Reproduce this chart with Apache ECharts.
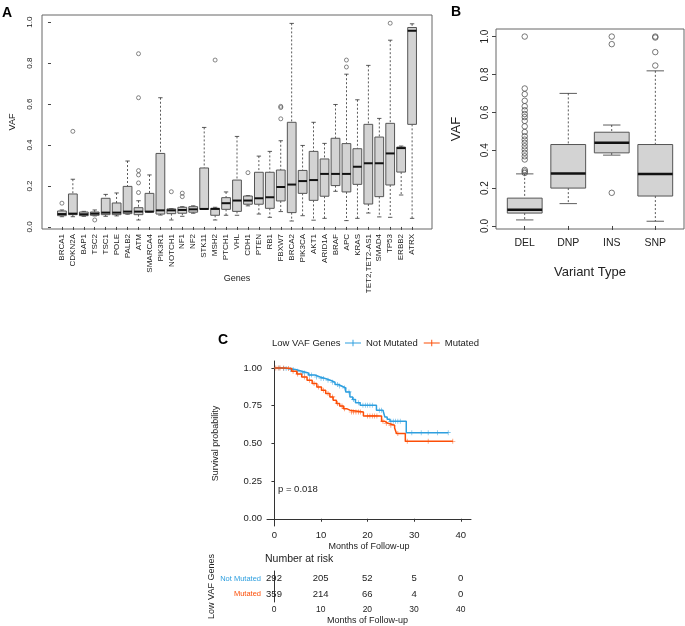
<!DOCTYPE html>
<html>
<head>
<meta charset="utf-8">
<script src="https://cdn.jsdelivr.net/npm/echarts@6/dist/echarts.min.js"></script>
<style>
  html, body { margin: 0; padding: 0; background: #fff; }
  #chart { width: 685px; height: 626px; }
</style>
</head>
<body>
<div id="chart"></div>
<script>
// ---- Panel A: VAF by gene ----
var genes = ['BRCA1','CDKN2A','BAP1','TSC2','TSC1','POLE','PALB2','ATM','SMARCA4','PIK3R1','NOTCH1',
  'NF1','NF2','STK11','MSH2','PTCH1','VHL','CDH1','PTEN','RB1','FBXW7','BRCA2','PIK3CA','AKT1',
  'ARID1A','BRAF','APC','KRAS','TET2,TET2-AS1','SMAD4','TP53','ERBB2','ATRX'];
var geneLo  = [0.050,0.050,0.052,0.054,0.052,0.054,0.062,0.034,0.073,0.058,0.034,0.052,0.067,0.086,0.034,0.057,0.057,0.103,0.063,0.047,0.075,0.029,0.055,0.033,0.042,0.174,0.031,0.042,0.068,0.049,0.047,0.156,0.042];
var geneQ1  = [0.055,0.060,0.055,0.057,0.060,0.060,0.065,0.060,0.073,0.063,0.065,0.067,0.072,0.086,0.057,0.086,0.076,0.111,0.111,0.091,0.127,0.070,0.164,0.130,0.150,0.202,0.171,0.208,0.112,0.148,0.205,0.268,0.501];
var geneMed = [0.063,0.065,0.062,0.065,0.070,0.070,0.075,0.075,0.075,0.081,0.081,0.083,0.086,0.088,0.088,0.116,0.129,0.129,0.140,0.145,0.195,0.207,0.224,0.229,0.259,0.259,0.259,0.294,0.311,0.311,0.359,0.385,0.958];
var geneQ3  = [0.078,0.161,0.073,0.073,0.140,0.117,0.198,0.094,0.164,0.359,0.088,0.096,0.099,0.288,0.091,0.143,0.229,0.151,0.267,0.267,0.278,0.511,0.276,0.369,0.332,0.433,0.407,0.382,0.501,0.439,0.506,0.390,0.974];
var geneHi  = [0.083,0.233,0.076,0.083,0.159,0.166,0.322,0.128,0.254,0.631,0.090,0.099,0.103,0.486,0.096,0.171,0.442,0.153,0.346,0.369,0.421,0.994,0.398,0.511,0.408,0.598,0.746,0.621,0.789,0.530,0.912,0.395,0.992];
var geneOutliers = [['BRCA1',0.116],['CDKN2A',0.467],['TSC2',0.034],['ATM',0.846],['ATM',0.631],
  ['ATM',0.275],['ATM',0.254],['ATM',0.215],['ATM',0.168],['NOTCH1',0.172],['NF1',0.165],['NF1',0.148],
  ['MSH2',0.815],['CDH1',0.265],['FBXW7',0.589],['FBXW7',0.583],['FBXW7',0.528],['APC',0.815],
  ['APC',0.781],['TP53',0.995]];
var vafTicks = [0, 0.2, 0.4, 0.6, 0.8, 1.0];

// ---- Panel B: VAF by variant type ----
var types   = ['DEL','DNP','INS','SNP'];
var typeLo  = [0.032,0.118,0.374,0.025];
var typeQ1  = [0.068,0.200,0.386,0.158];
var typeMed = [0.086,0.277,0.440,0.275];
var typeQ3  = [0.147,0.430,0.495,0.430];
var typeHi  = [0.275,0.700,0.533,0.819];
var typeOutliers = [['DEL',1.0],['DEL',0.726],['DEL',0.696],['DEL',0.661],['DEL',0.632],['DEL',0.611],
  ['DEL',0.591],['DEL',0.575],['DEL',0.555],['DEL',0.526],['DEL',0.496],['DEL',0.474],['DEL',0.456],
  ['DEL',0.439],['DEL',0.421],['DEL',0.404],['DEL',0.386],['DEL',0.368],['DEL',0.351],['DEL',0.296],
  ['DEL',0.288],['DEL',0.280],['INS',1.0],['INS',0.96],['INS',0.175],
  ['SNP',1.0],['SNP',0.995],['SNP',0.918],['SNP',0.847]];

// ---- Panel C: Kaplan-Meier ----
var groups = ['Not Mutated','Mutated'];
var groupColors = ['#2E9FDF','#FC4E07'];
var notMutTimes = [0,1.5,3.0,4.5,5.9,7.3,8.7,9.8,10.9,12.0,13.0,13.7,14.4,15.3,16.2,16.8,17.4,18.4,21.9,23.3,23.7,24.2,24.8,28.3];
var notMutSurv  = [1.0,0.996,0.99,0.978,0.967,0.953,0.94,0.93,0.918,0.905,0.89,0.88,0.867,0.841,0.808,0.79,0.77,0.752,0.719,0.712,0.675,0.66,0.646,0.571];
var notMutEnd = 37.3;
var mutTimes = [0,2.3,3.7,4.8,5.85,7.0,8.1,9.1,10.1,11.0,11.9,12.6,13.3,14.0,14.8,15.5,16.2,19.1,23.0,23.7,24.4,25.8,26.2,28.1];
var mutSurv  = [1.0,0.996,0.978,0.96,0.94,0.918,0.896,0.874,0.852,0.83,0.808,0.786,0.764,0.747,0.73,0.72,0.708,0.682,0.646,0.633,0.62,0.602,0.565,0.514];
var mutEnd = 38.3;
var notMutCensor = [1,2,2.5,3.5,4,5,6,6.5,7.5,8,9,10,10.5,11.5,12.5,13.5,14,15,16,17,18,19,19.5,20,20.5,21,22.5,23,25,25.5,26,26.5,27,29.5,31.5,33,35,37.3];
var mutCensor = [0.3,0.8,1.2,2,3,4,5,6.5,7.5,8.5,9.5,10.5,11.5,12.5,13.5,14.5,15,16.5,17,17.5,18,18.5,20,20.5,21,21.5,22,23.3,24,25,26.5,28.5,33,38.3];
var monthTicks = [0, 10, 20, 30, 40];
var survTicks = [0, 0.25, 0.5, 0.75, 1.0];
var riskNotMut = [292, 205, 52, 5, 0];
var riskMut    = [359, 214, 66, 4, 0];

var FONT = 'Liberation Sans';

function boxRows(lo, q1, md, q3, hi) {
  return lo.map(function (v, i) { return [i + 1, lo[i], q1[i], md[i], q3[i], hi[i]]; });
}
function stepLine(times, surv, end) {
  var d = times.map(function (t, i) { return [t, surv[i]]; });
  d.push([end, surv[surv.length - 1]]);
  return d;
}
function survAt(times, surv, t) {
  var s = 1;
  for (var i = 0; i < times.length; i++) { if (times[i] <= t) s = surv[i]; }
  return s;
}

// R-style box: dashed whiskers, solid staples, grey box, thick median
function makeBox(medWidth) {
  return function (params, api) {
    var x = api.value(0);
    var lo = api.coord([x, api.value(1)]), q1 = api.coord([x, api.value(2)]),
        md = api.coord([x, api.value(3)]), q3 = api.coord([x, api.value(4)]),
        hi = api.coord([x, api.value(5)]);
    var w = api.size([0.8, 0])[0], cx = lo[0], h = w / 2, s = w / 4;
    var dash = { stroke: '#333', lineWidth: 0.8, lineDash: [2, 2] };
    var solid = { stroke: '#333', lineWidth: 0.8 };
    return { type: 'group', children: [
      { type: 'line', shape: { x1: cx, y1: hi[1], x2: cx, y2: q3[1] }, style: dash },
      { type: 'line', shape: { x1: cx, y1: q1[1], x2: cx, y2: lo[1] }, style: dash },
      { type: 'line', shape: { x1: cx - s, y1: hi[1], x2: cx + s, y2: hi[1] }, style: solid },
      { type: 'line', shape: { x1: cx - s, y1: lo[1], x2: cx + s, y2: lo[1] }, style: solid },
      { type: 'rect', shape: { x: cx - h, y: q3[1], width: w, height: q1[1] - q3[1] },
        style: { fill: '#d3d3d3', stroke: '#555', lineWidth: 1 } },
      { type: 'line', shape: { x1: cx - h, y1: md[1], x2: cx + h, y2: md[1] },
        style: { stroke: '#111', lineWidth: medWidth } }
    ]};
  };
}

var crossIcon = 'path://M0,4.4h20v1.2h-20z M9.4,1h1.2v8h-1.2z';
var censorIcon = 'path://M0,4.4h10v1.2h-10z M4.4,0h1.2v10h-1.2z';

var chart = echarts.init(document.getElementById('chart'), null, { renderer: 'canvas' });

function label(text, left, top, size, bold) {
  return { text: text, left: left, top: top, padding: 0,
    textStyle: { fontSize: size, fontWeight: bold ? 'bold' : 'normal', color: bold ? '#000' : '#222', fontFamily: FONT } };
}

var option = {
  backgroundColor: '#fff',
  animation: false,
  textStyle: { fontFamily: FONT },
  title: [
    label('A', 2, 6, 14, true),
    label('B', 451, 5, 14, true),
    label('C', 218, 333, 14, true),
    label('Low VAF Genes', 272, 338, 9.5),
    label('p = 0.018', 278, 484, 9.5),
    label('Number at risk', 265, 554, 10.5)
  ],
  legend: {
    left: 345, top: 338, padding: 0, itemWidth: 16, itemHeight: 8, itemGap: 6, icon: crossIcon,
    data: groups,
    textStyle: { fontSize: 9.5, color: '#222', fontFamily: FONT }
  },
  grid: [
    { left: 39, top: 15, width: 393, height: 214, show: true, borderColor: '#666', borderWidth: 1, backgroundColor: 'transparent' },
    { left: 496, top: 29, width: 188, height: 200, show: true, borderColor: '#666', borderWidth: 1, backgroundColor: 'transparent' },
    { left: 267, top: 361, width: 204, height: 165 },
    { left: 264, top: 571, width: 207, height: 31 }
  ],
  xAxis: [
    { gridIndex: 0, type: 'value', min: -0.82, max: 34.82, name: 'Genes', nameLocation: 'middle', nameGap: 45,
      nameMoveOverlap: false,
      nameTextStyle: { fontSize: 9, color: '#222' },
      axisLine: { show: false }, splitLine: { show: false },
      axisTick: { length: 3, lineStyle: { color: '#444' }, customValues: genes.map(function (g, i) { return i + 1; }) },
      axisLabel: { rotate: 90, fontSize: 8, color: '#222', margin: 5,
        customValues: genes.map(function (g, i) { return i + 1; }),
        formatter: function (v) { return genes[Math.round(v) - 1] || ''; } } },
    { gridIndex: 1, type: 'value', min: 0.34, max: 4.66, name: 'Variant Type', nameLocation: 'middle', nameGap: 37,
      nameMoveOverlap: false,
      nameTextStyle: { fontSize: 13, color: '#222' },
      axisLine: { show: false }, splitLine: { show: false },
      axisTick: { length: 4, lineStyle: { color: '#444' }, customValues: [1, 2, 3, 4] },
      axisLabel: { fontSize: 10.5, color: '#222', margin: 9, customValues: [1, 2, 3, 4],
        formatter: function (v) { return types[Math.round(v) - 1] || ''; } } },
    { gridIndex: 2, type: 'value', min: -1.6, max: 42.2, name: 'Months of Follow-up', nameLocation: 'middle', nameGap: 16,
      nameMoveOverlap: false,
      nameTextStyle: { fontSize: 9, color: '#222' },
      axisLine: { lineStyle: { color: '#333', width: 1 } }, splitLine: { show: false },
      axisTick: { length: 3, lineStyle: { color: '#333' }, customValues: monthTicks },
      axisLabel: { fontSize: 9.5, color: '#222', margin: 4, customValues: monthTicks } },
    { gridIndex: 3, type: 'value', min: -2.14, max: 42.2, name: 'Months of Follow-up', nameLocation: 'middle', nameGap: 14,
      nameMoveOverlap: false,
      nameTextStyle: { fontSize: 9, color: '#222' },
      axisLine: { lineStyle: { color: '#333', width: 1 } }, splitLine: { show: false },
      axisTick: { length: 3, lineStyle: { color: '#333' }, customValues: monthTicks },
      axisLabel: { fontSize: 8.5, color: '#222', margin: 3, customValues: monthTicks } }
  ],
  yAxis: [
    { gridIndex: 0, type: 'value', min: -0.01, max: 1.035, name: 'VAF', nameLocation: 'middle', nameGap: 25,
      nameMoveOverlap: false,
      nameTextStyle: { fontSize: 9, color: '#222' },
      axisLine: { show: false }, splitLine: { show: false },
      axisTick: { length: 3, lineStyle: { color: '#444' }, customValues: vafTicks },
      axisLabel: { rotate: 90, fontSize: 8, color: '#222', margin: 8, customValues: vafTicks,
        formatter: function (v) { return v.toFixed(1); } } },
    { gridIndex: 1, type: 'value', min: -0.016, max: 1.04, name: 'VAF', nameLocation: 'middle', nameGap: 33,
      nameMoveOverlap: false,
      nameTextStyle: { fontSize: 13, color: '#222' },
      axisLine: { show: false }, splitLine: { show: false },
      axisTick: { length: 4, lineStyle: { color: '#444' }, customValues: vafTicks },
      axisLabel: { rotate: 90, fontSize: 10, color: '#222', margin: 6, customValues: vafTicks,
        formatter: function (v) { return v.toFixed(1); } } },
    { gridIndex: 2, type: 'value', min: -0.048, max: 1.046, name: 'Survival probability', nameLocation: 'middle', nameGap: 47,
      nameMoveOverlap: false,
      nameTextStyle: { fontSize: 9, color: '#222' },
      axisLine: { lineStyle: { color: '#333', width: 1 } }, splitLine: { show: false },
      axisTick: { length: 3, lineStyle: { color: '#333' }, customValues: survTicks },
      axisLabel: { fontSize: 9.5, color: '#222', margin: 5, customValues: survTicks,
        formatter: function (v) { return v.toFixed(2); } } },
    { gridIndex: 3, type: 'category', data: ['Mutated', 'Not Mutated'], name: 'Low VAF Genes', nameLocation: 'middle', nameGap: 48,
      nameMoveOverlap: false,
      nameTextStyle: { fontSize: 9, color: '#222' },
      axisLine: { lineStyle: { color: '#333', width: 1 } }, splitLine: { show: false },
      axisTick: { length: 2, alignWithLabel: true, lineStyle: { color: '#333' } },
      axisLabel: { fontSize: 7.5, margin: 3,
        color: function (v) { return v === 'Mutated' ? groupColors[1] : groupColors[0]; } } }
  ],
  series: [
    { type: 'custom', xAxisIndex: 0, yAxisIndex: 0, renderItem: makeBox(2), encode: { x: 0, y: [1, 2, 3, 4, 5] },
      data: boxRows(geneLo, geneQ1, geneMed, geneQ3, geneHi), silent: true },
    { type: 'scatter', xAxisIndex: 0, yAxisIndex: 0, symbol: 'circle', symbolSize: 4,
      itemStyle: { color: 'rgba(0,0,0,0)', borderColor: '#444', borderWidth: 0.8 },
      data: geneOutliers.map(function (o) { return [genes.indexOf(o[0]) + 1, o[1]]; }) },
    { type: 'custom', xAxisIndex: 1, yAxisIndex: 1, renderItem: makeBox(2.5), encode: { x: 0, y: [1, 2, 3, 4, 5] },
      data: boxRows(typeLo, typeQ1, typeMed, typeQ3, typeHi), silent: true },
    { type: 'scatter', xAxisIndex: 1, yAxisIndex: 1, symbol: 'circle', symbolSize: 5.5,
      itemStyle: { color: 'rgba(0,0,0,0)', borderColor: '#444', borderWidth: 0.9 },
      data: typeOutliers.map(function (o) { return [types.indexOf(o[0]) + 1, o[1]]; }) },
    { name: groups[0], type: 'line', xAxisIndex: 2, yAxisIndex: 2, step: 'end', showSymbol: false,
      color: groupColors[0], lineStyle: { width: 1.5 }, data: stepLine(notMutTimes, notMutSurv, notMutEnd) },
    { name: groups[1], type: 'line', xAxisIndex: 2, yAxisIndex: 2, step: 'end', showSymbol: false,
      color: groupColors[1], lineStyle: { width: 1.5 }, data: stepLine(mutTimes, mutSurv, mutEnd) },
    { name: groups[0], type: 'scatter', xAxisIndex: 2, yAxisIndex: 2, symbol: censorIcon, symbolSize: 5,
      color: groupColors[0],
      data: notMutCensor.map(function (t) { return [t, survAt(notMutTimes, notMutSurv, t)]; }) },
    { name: groups[1], type: 'scatter', xAxisIndex: 2, yAxisIndex: 2, symbol: censorIcon, symbolSize: 5,
      color: groupColors[1],
      data: mutCensor.map(function (t) { return [t, survAt(mutTimes, mutSurv, t)]; }) },
    { type: 'custom', xAxisIndex: 3, yAxisIndex: 3, silent: true,
      data: monthTicks.map(function (t, i) { return [t, 'Not Mutated', riskNotMut[i]]; })
        .concat(monthTicks.map(function (t, i) { return [t, 'Mutated', riskMut[i]]; })),
      encode: { x: 0, y: 1 },
      renderItem: function (params, api) {
        var p = api.coord([api.value(0), api.value(1)]);
        return { type: 'text', x: p[0], y: p[1],
          style: { text: String(api.value(2)), align: 'center', verticalAlign: 'middle',
            fontSize: 9.5, fontFamily: FONT, fill: '#222' } };
      } }
  ]
};

chart.setOption(option);
</script>
</body>
</html>
